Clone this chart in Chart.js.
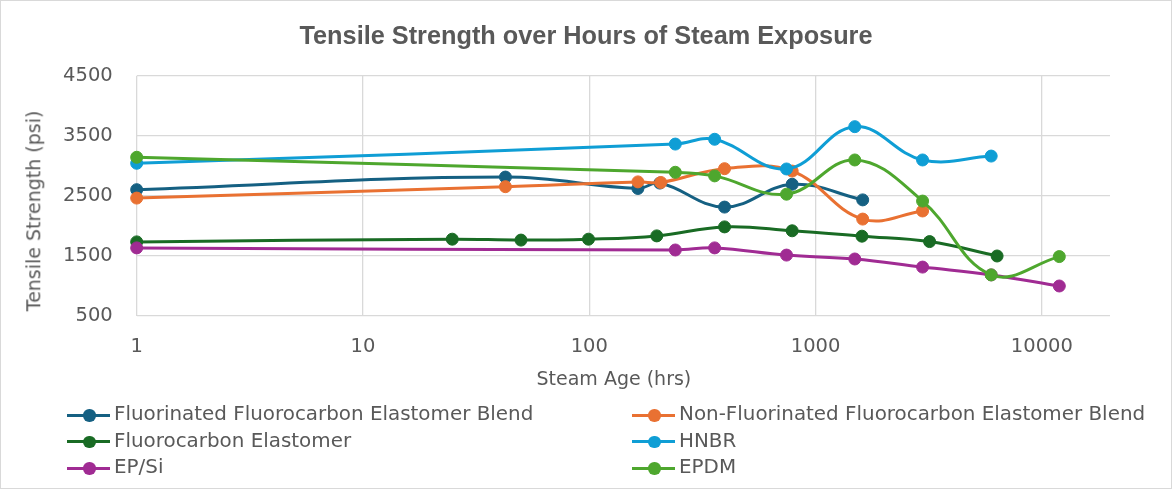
<!DOCTYPE html>
<html>
<head>
<meta charset="utf-8">
<script src="https://cdn.jsdelivr.net/npm/chart.js@4.4.1/dist/chart.umd.min.js"></script>
<style>
  body { margin: 0; background: #fff; }
  #wrap { position: relative; width: 1172px; height: 489px; overflow: hidden; }
  #chart { position: absolute; left: 0; top: 0; }
  #frame { position: absolute; left: 0; top: 0; width: 1172px; height: 489px; box-sizing: border-box; border: 1px solid #d9d9d9; pointer-events: none; }
  .axt { position: absolute; font: 19px "DejaVu Sans", sans-serif; color: #595959; white-space: nowrap; line-height: 24px; height: 24px; }
  .leg { position: absolute; height: 26px; line-height: 26px; font: 19.9px "DejaVu Sans", sans-serif; color: #595959; white-space: nowrap; }
  .leg .ln { position: absolute; left: 0; top: 11.5px; width: 43px; height: 3px; }
  .leg .dot { position: absolute; left: 16px; top: 7px; width: 12.5px; height: 12.5px; border-radius: 50%; }
  .leg .tx { position: absolute; left: 47px; top: 0; }
</style>
</head>
<body>
<div id="wrap">
  <canvas id="chart" width="1172" height="489"></canvas>
  <div id="xTitle" class="axt">Steam Age (hrs)</div>
  <div id="yTitle" class="axt">Tensile Strength (psi)</div>
  <div id="legend"></div>
  <div id="frame"></div>
</div>
<script>
// tick labels
const xTicks = [1, 10, 100, 1000, 10000];

// series names and colours
const seriesNames = [
  'Fluorinated Fluorocarbon Elastomer Blend',
  'Non-Fluorinated Fluorocarbon Elastomer Blend',
  'Fluorocarbon Elastomer',
  'HNBR',
  'EP/Si',
  'EPDM'
];
const seriesColors = ['#156082', '#E97132', '#196B24', '#0F9ED5', '#A02B93', '#4EA72E'];

// hours of steam exposure / tensile strength (psi)
const hoursFFEB = [1, 42.6, 164, 205, 396, 788, 1615];
const tsFFEB    = [2600, 2810, 2620, 2710, 2310, 2690, 2430];

const hoursNFFEB = [1, 42.6, 164, 207, 396, 788, 1615, 2970];
const tsNFFEB    = [2460, 2650, 2730, 2720, 2950, 2910, 2110, 2245];

const hoursFE = [1, 24.8, 49.9, 99.2, 198.7, 396, 788, 1603, 3190, 6340];
const tsFE    = [1730, 1775, 1760, 1775, 1830, 1980, 1915, 1825, 1735, 1495];

const hoursHNBR = [1, 240, 358, 744, 1490, 2970, 5970];
const tsHNBR    = [3040, 3360, 3440, 2945, 3650, 3095, 3160];

const hoursEPSi = [1, 240, 358, 744, 1490, 2970, 5970, 11940];
const tsEPSi    = [1630, 1595, 1630, 1510, 1445, 1310, 1180, 995];

const hoursEPDM = [1, 240, 358, 744, 1490, 2970, 5970, 11940];
const tsEPDM    = [3140, 2890, 2830, 2525, 3095, 2410, 1180, 1485];

const seriesHours = [hoursFFEB, hoursNFFEB, hoursFE, hoursHNBR, hoursEPSi, hoursEPDM];
const seriesValues = [tsFFEB, tsNFFEB, tsFE, tsHNBR, tsEPSi, tsEPDM];

const textColor = '#595959';
const gridColor = '#d9d9d9';
const tickFont = { family: '"DejaVu Sans", sans-serif', size: 19.5 };

const datasets = seriesNames.map((name, i) => ({
  label: name,
  data: seriesHours[i].map((h, j) => ({ x: h, y: seriesValues[i][j] })),
  borderColor: seriesColors[i],
  backgroundColor: seriesColors[i],
  borderWidth: 3,
  pointRadius: 6,
  pointHoverRadius: 6,
  pointBorderWidth: 1,
  tension: 0.4,
  clip: false,
  order: seriesNames.length - i   // later series drawn on top, as in the original
}));

const ctx = document.getElementById('chart').getContext('2d');
const chart = new Chart(ctx, {
  type: 'line',
  data: { datasets: datasets },
  options: {
    responsive: false,
    animation: false,
    layout: { padding: { left: 0, right: 0, top: 0, bottom: 93.3 } },
    plugins: {
      legend: { display: false },
      tooltip: { enabled: false },
      title: {
        display: true,
        text: 'Tensile Strength over Hours of Steam Exposure',
        color: textColor,
        font: { family: '"Liberation Sans", Arial, sans-serif', size: 25.3, weight: 'bold' },
        padding: { top: 22, bottom: 23.3 }
      }
    },
    scales: {
      x: {
        type: 'logarithmic',
        min: 1,
        max: 20000,
        afterBuildTicks: s => { s.ticks = xTicks.map(v => ({ value: v })); },
        afterFit: s => { s.height = 80; },
        ticks: {
          callback: v => String(v),
          color: textColor,
          font: tickFont,
          padding: 20,
          maxRotation: 0,
          autoSkip: false
        },
        grid: { color: gridColor, lineWidth: 1.3, drawTicks: false },
        border: { display: false }
      },
      y: {
        min: 500,
        max: 4500,
        afterFit: s => { s.width = 136.7; },
        ticks: {
          stepSize: 1000,
          callback: v => String(v),
          color: textColor,
          font: tickFont,
          padding: 24
        },
        grid: { color: gridColor, lineWidth: 1.3, drawTicks: false },
        border: { display: false }
      },
      // empty right-hand box so the plot stops where the original does
      yPad: {
        position: 'right',
        display: true,
        afterFit: s => { s.width = 62; },
        ticks: { display: false },
        grid: { display: false },
        border: { display: false }
      }
    }
  }
});

// axis titles
const xTitle = document.getElementById('xTitle');
xTitle.style.left = (614 - xTitle.offsetWidth / 2) + 'px';
xTitle.style.top = (378 - 12) + 'px';
const yTitle = document.getElementById('yTitle');
yTitle.style.left = (33.5 - yTitle.offsetWidth / 2) + 'px';
yTitle.style.top = (211 - 12) + 'px';
yTitle.style.transform = 'rotate(-90deg)';

// two-column legend like the original
const legendEl = document.getElementById('legend');
const legCols = [67, 632];
const legRows = [402, 428.5, 455];
seriesNames.forEach((name, i) => {
  const item = document.createElement('div');
  item.className = 'leg';
  item.style.left = legCols[i % 2] + 'px';
  item.style.top = legRows[Math.floor(i / 2)] + 'px';
  item.innerHTML = '<span class="ln" style="background:' + seriesColors[i] + '"></span>' +
    '<span class="dot" style="background:' + seriesColors[i] + '"></span>' +
    '<span class="tx">' + name + '</span>';
  legendEl.appendChild(item);
});
</script>
</body>
</html>
